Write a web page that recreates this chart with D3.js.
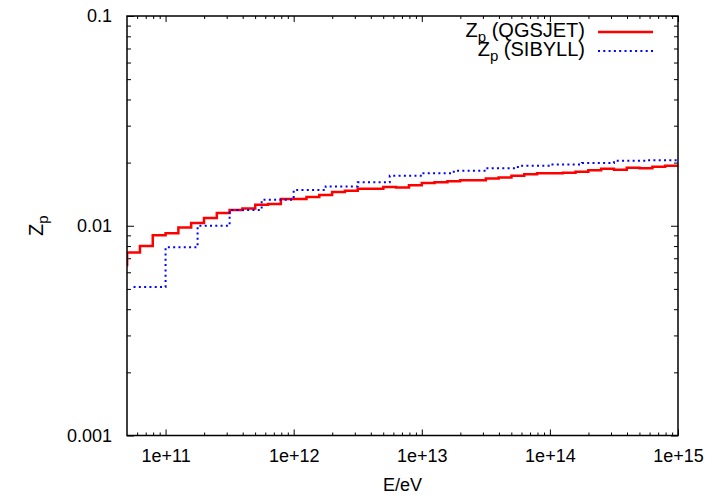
<!DOCTYPE html>
<html>
<head>
<meta charset="utf-8">
<script src="https://cdn.jsdelivr.net/npm/d3@7"></script>
<style>
  body { margin: 0; background: #fff; }
  svg text { font-family: "Liberation Sans", Arial, sans-serif; font-size: 18px; fill: #000; }
  svg text.key { font-size: 20px; }
</style>
</head>
<body>
<script>
// QGSJET bins: lower edge in log10(E/eV), 0.1 decade wide
const qgsLogE = [10.6, 10.7, 10.8, 10.9, 11.0, 11.1, 11.2, 11.3, 11.4, 11.5,
  11.6, 11.7, 11.8, 11.9, 12.0, 12.1, 12.2, 12.3, 12.4, 12.5,
  12.6, 12.7, 12.8, 12.9, 13.0, 13.1, 13.2, 13.3, 13.4, 13.5,
  13.6, 13.7, 13.8, 13.9, 14.0, 14.1, 14.2, 14.3, 14.4, 14.5,
  14.6, 14.7, 14.8, 14.9, 15.0];
const qgsZp = [0.0065, 0.00745, 0.0080, 0.0090, 0.0092, 0.0098, 0.0103, 0.0109, 0.0115, 0.0119,
  0.0121, 0.0126, 0.0127, 0.0134, 0.0134, 0.0137, 0.0140, 0.0145, 0.0147, 0.0150,
  0.0150, 0.0153, 0.0152, 0.0156, 0.0160, 0.0161, 0.0163, 0.0165, 0.0165, 0.0168,
  0.0170, 0.0173, 0.0176, 0.0178, 0.0178, 0.0179, 0.0181, 0.0184, 0.0187, 0.0185,
  0.0189, 0.0188, 0.0191, 0.0193, 0.0193];

// SIBYLL bins: 0.25 decade wide
const sibLogE = [10.75, 11.0, 11.25, 11.5, 11.75, 12.0, 12.25, 12.5, 12.75, 13.0,
  13.25, 13.5, 13.75, 14.0, 14.25, 14.5, 14.75, 15.0];
const sibZp = [0.0051, 0.0079, 0.0100, 0.0119, 0.0133, 0.0148, 0.0154, 0.0161, 0.0173, 0.0178,
  0.0183, 0.0188, 0.0193, 0.0196, 0.0199, 0.0204, 0.0205, 0.0205];

const xTicks = [1e11, 1e12, 1e13, 1e14, 1e15];
const xTickLabels = ["1e+11", "1e+12", "1e+13", "1e+14", "1e+15"];
const yTicks = [0.001, 0.01, 0.1];
const yTickLabels = ["0.001", "0.01", "0.1"];

let margin = {top: 16, right: 33, left: 127, bottom: 59.5};
let outWidth = 711, outHeight = 495;
let width = outWidth - margin.left - margin.right,
    height = outHeight - margin.top - margin.bottom;

const svg = d3.select('body').append('svg')
  .attr("width", outWidth)
  .attr("height", outHeight);

const g = svg.append("g")
  .attr("transform", `translate(${margin.left}, ${margin.top})`);

let xScale = d3.scaleLog().domain([5e10, 1e15]).range([0, width]);
let yScale = d3.scaleLog().domain([0.001, 0.1]).range([height, 0]);

// minor ticks at 2..9 of each decade
function minorTicks(lo, hi) {
  let out = [];
  for (let p = Math.floor(Math.log10(lo)); p < Math.ceil(Math.log10(hi)); p++) {
    for (let m = 2; m <= 9; m++) {
      let v = m * Math.pow(10, p);
      if (v > lo && v < hi) out.push(v);
    }
  }
  return out;
}
const xMinor = minorTicks(5e10, 1e15);
const yMinor = minorTicks(0.001, 0.1);

function tickAxis(axis, scale, values, size, fmt) {
  return axis(scale).tickValues(values).tickSize(-size).tickPadding(14)
    .tickFormat(fmt || "");
}

// major ticks with labels, mirrored on top/right
g.append("g").attr("class", "axis x-axis")
  .attr("transform", `translate(0, ${height})`)
  .call(tickAxis(d3.axisBottom, xScale, xTicks, 6, (d, i) => xTickLabels[i]));
g.append("g").attr("class", "axis")
  .call(tickAxis(d3.axisTop, xScale, xTicks, 6));
g.append("g").attr("class", "axis y-axis")
  .call(tickAxis(d3.axisLeft, yScale, yTicks, 7, (d, i) => yTickLabels[i]));
g.append("g").attr("class", "axis")
  .attr("transform", `translate(${width}, 0)`)
  .call(tickAxis(d3.axisRight, yScale, yTicks, 7));

// minor ticks
g.append("g").attr("class", "axis")
  .attr("transform", `translate(0, ${height})`)
  .call(tickAxis(d3.axisBottom, xScale, xMinor, 3));
g.append("g").attr("class", "axis")
  .call(tickAxis(d3.axisTop, xScale, xMinor, 3));
g.append("g").attr("class", "axis")
  .call(tickAxis(d3.axisLeft, yScale, yMinor, 4));
g.append("g").attr("class", "axis")
  .attr("transform", `translate(${width}, 0)`)
  .call(tickAxis(d3.axisRight, yScale, yMinor, 4));

g.selectAll(".axis .domain").remove();
g.selectAll(".axis line").attr("stroke", "#000").attr("stroke-width", 1);
g.select(".y-axis").selectAll("text").attr("x", -15);

// step lines
g.append("clipPath").attr("id", "plot-clip")
  .append("rect").attr("width", width).attr("height", height);

const step = d3.line()
  .x(d => xScale(Math.pow(10, d[0])))
  .y(d => yScale(d[1]))
  .curve(d3.curveStepAfter);

g.append("path")
  .datum(d3.zip(qgsLogE, qgsZp))
  .attr("clip-path", "url(#plot-clip)")
  .attr("fill", "none")
  .attr("stroke", "#ff0000")
  .attr("stroke-width", 2.5)
  .attr("d", step);

g.append("path")
  .datum(d3.zip(sibLogE, sibZp))
  .attr("clip-path", "url(#plot-clip)")
  .attr("fill", "none")
  .attr("stroke", "#0000ff")
  .attr("stroke-width", 2)
  .attr("stroke-dasharray", "2,3.3")
  .attr("d", step);

// frame
g.append("rect")
  .attr("width", width).attr("height", height)
  .attr("fill", "none").attr("stroke", "#000").attr("stroke-width", 1.5);

// legend
const legend = [
  {name: " (QGSJET)", color: "#ff0000", dash: null, w: 2.5},
  {name: " (SIBYLL)", color: "#0000ff", dash: "2,3.3", w: 2}
];
legend.forEach((d, i) => {
  let y = 37 + i * 19;
  let t = svg.append("text").attr("class", "key")
    .attr("x", 585).attr("y", y).attr("text-anchor", "end");
  t.append("tspan").text("Z");
  t.append("tspan").attr("font-size", "15px").attr("dy", 5).text("p");
  t.append("tspan").attr("dy", -5).text(d.name);
  svg.append("line")
    .attr("x1", 598).attr("x2", 653)
    .attr("y1", y - 5).attr("y2", y - 5)
    .attr("stroke", d.color).attr("stroke-width", d.w)
    .attr("stroke-dasharray", d.dash);
});

// axis titles
svg.append("text")
  .attr("x", margin.left + width / 2).attr("y", 491)
  .attr("text-anchor", "middle")
  .text("E/eV");

let yl = svg.append("text").attr("class", "key")
  .attr("transform", `translate(43, ${margin.top + height / 2}) rotate(-90)`)
  .attr("text-anchor", "middle");
yl.append("tspan").text("Z");
yl.append("tspan").attr("font-size", "15px").attr("dy", 5).text("p");
</script>
</body>
</html>
